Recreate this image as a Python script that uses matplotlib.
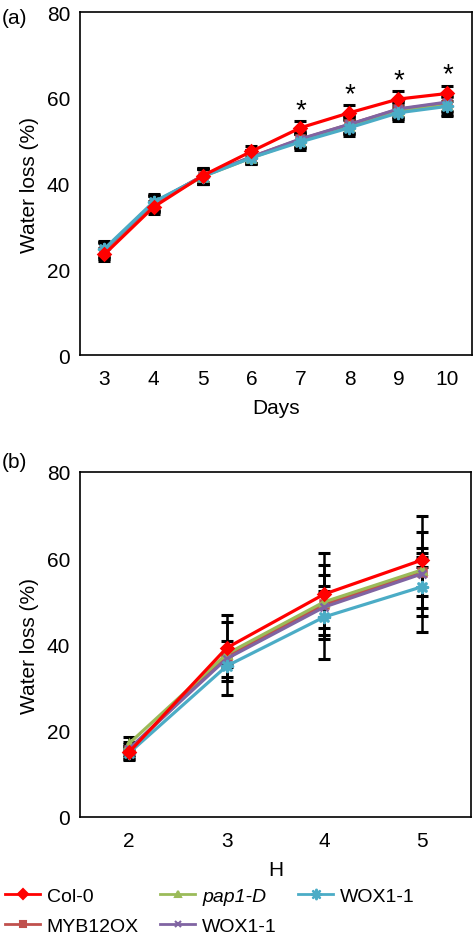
import matplotlib
matplotlib.use("Agg")
import matplotlib.pyplot as plt
from matplotlib.lines import Line2D

plt.rcParams['font.family'] = ['Liberation Sans', 'DejaVu Sans']

# ---- data panel (a) ----
days = [3, 4, 5, 6, 7, 8, 9, 10]
col0_a = [23.5, 34.5, 41.8, 47.5, 53.0, 56.5, 59.7, 61.0]
col0_a_err = [1.5, 1.5, 1.5, 1.2, 1.5, 1.8, 1.8, 1.8]
myb_a = [24.5, 35.3, 41.8, 46.2, 50.3, 53.8, 57.3, 58.8]
myb_a_err = [1.8, 1.8, 1.8, 1.5, 1.8, 2.0, 2.0, 2.2]
pap_a = [24.3, 35.2, 41.6, 46.0, 50.0, 53.5, 57.0, 58.2]
pap_a_err = [1.8, 1.8, 1.8, 1.5, 1.8, 2.0, 2.0, 2.2]
woxp_a = [24.6, 35.5, 41.7, 46.2, 50.4, 53.8, 57.4, 59.0]
woxp_a_err = [1.8, 1.8, 1.8, 1.5, 1.8, 2.0, 2.0, 2.2]
woxc_a = [24.8, 35.7, 41.6, 46.0, 49.7, 53.0, 56.5, 58.0]
woxc_a_err = [1.8, 1.8, 1.8, 1.5, 1.8, 2.0, 2.0, 2.2]
star_days = [7, 8, 9, 10]

# ---- data panel (b) ----
hours = [2, 3, 4, 5]
col0_b = [15.0, 39.2, 51.7, 59.6]
col0_b_err = [1.5, 7.7, 9.6, 1.7]
myb_b = [15.5, 37.3, 49.3, 56.8]
myb_b_err = [1.5, 2.0, 3.0, 5.5]
pap_b = [17.0, 37.8, 49.9, 57.3]
pap_b_err = [1.5, 3.0, 8.6, 8.8]
woxp_b = [15.8, 36.7, 48.7, 56.4]
woxp_b_err = [1.5, 8.5, 4.8, 13.5]
woxc_b = [14.8, 35.0, 46.4, 53.4]
woxc_b_err = [1.5, 2.5, 9.7, 6.8]

names = ['Col-0', 'MYB12OX', 'pap1-D', 'WOX1-1', 'WOX1-1']
colors = ['#FF0000', '#C0504D', '#9BBB59', '#8064A2', '#4BACC6']
markers = ['D', 's', '^', 'x', '$\u2733$']
msizes = [6, 6, 6, 6, 8]

fig = plt.figure(figsize=(4.75, 9.45), dpi=100)
axA = fig.add_axes([80/475, 1-356/945, 392/475, 343/945])
axB = fig.add_axes([80/475, 1-818/945, 391/475, 345/945])

series_a = [(col0_a, col0_a_err), (myb_a, myb_a_err), (pap_a, pap_a_err),
            (woxp_a, woxp_a_err), (woxc_a, woxc_a_err)]
series_b = [(col0_b, col0_b_err), (myb_b, myb_b_err), (pap_b, pap_b_err),
            (woxp_b, woxp_b_err), (woxc_b, woxc_b_err)]

def draw(ax, xs, series, elw, cs):
    order = [1, 2, 3, 4, 0]
    for i in order:
        y, e = series[i]
        ax.errorbar(xs, y, yerr=e, fmt='none', ecolor='black', elinewidth=elw,
                    capsize=cs, capthick=2.2, zorder=2)
    for i in order:
        y, e = series[i]
        ax.plot(xs, y, color=colors[i], lw=2.3, marker=markers[i],
                ms=msizes[i], mew=1.8, zorder=3 + (1 if i == 0 else 0))

draw(axA, days, series_a, 2.5, 4.5)
draw(axB, hours, series_b, 1.8, 4.0)

for d in star_days:
    k = days.index(d)
    axA.text(d, col0_a[k] + col0_a_err[k] + 2.6, '*', ha='center', va='center',
             fontsize=20)

for ax, xs, xl in [(axA, days, 'Days'), (axB, hours, 'H')]:
    ax.set_ylim(0, 80)
    ax.set_yticks([0, 20, 40, 60, 80])
    ax.set_xlim(xs[0] - 0.5, xs[-1] + 0.5)
    ax.set_xticks(xs)
    ax.tick_params(axis='y', length=0, labelsize=15, pad=7)
    ax.tick_params(axis='x', length=0, labelsize=15, pad=10)
    ax.set_ylabel('Water loss (%)', fontsize=15, labelpad=6)
    ax.set_xlabel(xl, fontsize=15, labelpad=7)
    for s in ax.spines.values():
        s.set_linewidth(1.2)

fig.text(2/475, 1-18/945, '(a)', fontsize=15, va='center', ha='left')
fig.text(2/475, 1-462/945, '(b)', fontsize=15, va='center', ha='left')

handles = []
for i in range(5):
    handles.append(Line2D([0], [0], color=colors[i], lw=2, marker=markers[i],
                          ms=msizes[i] - 1, mew=1.5))
labels = ['Col-0', 'MYB12OX', 'pap1-D', 'WOX1-1', 'WOX1-1']
leg = fig.legend(handles, labels, ncol=3, loc='upper left',
                 bbox_to_anchor=(5/475, 1 - 888/945), frameon=False,
                 fontsize=14, handlelength=1.8, columnspacing=1.1,
                 handletextpad=0.35, labelspacing=0.65, borderaxespad=0,
                 borderpad=0)
leg.get_texts()[2].set_fontstyle('italic')

fig.savefig('out.png', dpi=100)
